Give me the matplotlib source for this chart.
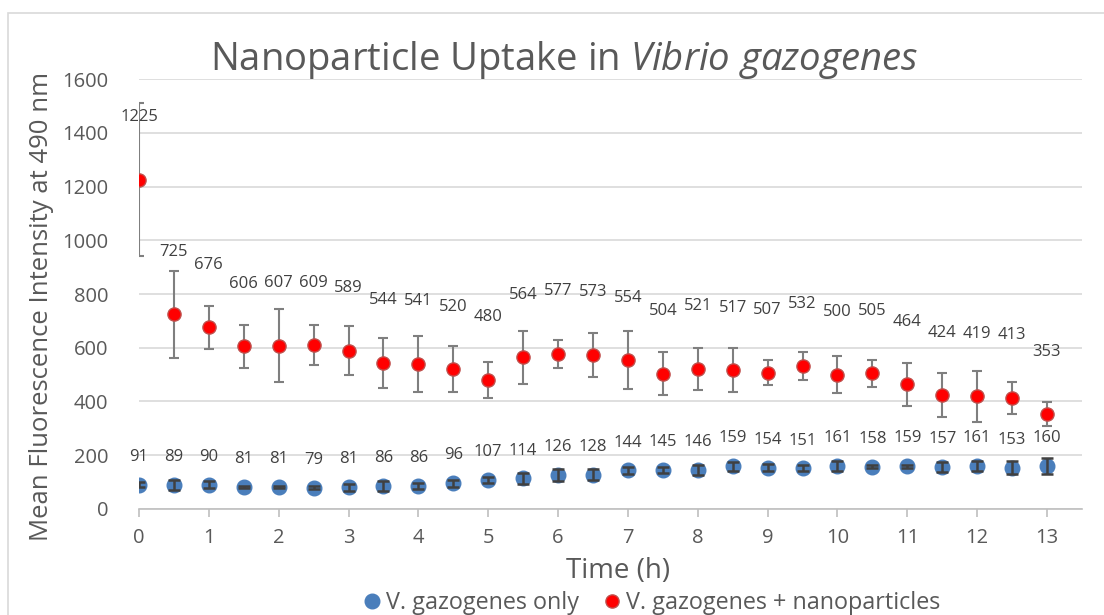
import matplotlib
matplotlib.use("Agg")
import matplotlib.pyplot as plt
from matplotlib.patches import Rectangle

plt.rcParams["font.family"] = "Open Sans"
plt.rcParams["mathtext.fontset"] = "custom"
plt.rcParams["mathtext.rm"] = "Open Sans"
plt.rcParams["mathtext.it"] = "Open Sans:italic"

TEXT = "#595959"

# time points (h)
time_h = [0, 0.5, 1, 1.5, 2, 2.5, 3, 3.5, 4, 4.5, 5, 5.5, 6, 6.5,
          7, 7.5, 8, 8.5, 9, 9.5, 10, 10.5, 11, 11.5, 12, 12.5, 13]

# V. gazogenes only
only_mean = [91, 89, 90, 81, 81, 79, 81, 86, 86, 96, 107, 114, 126, 128,
             144, 145, 146, 159, 154, 151, 161, 158, 159, 157, 161, 153, 160]
only_err = [11, 18, 13, 4, 4, 5, 13, 19, 12, 13, 11, 21, 21, 20,
            12, 12, 18, 17, 14, 11, 19, 5, 5, 19, 19, 24, 28]

# V. gazogenes + nanoparticles
nano_mean = [1225, 725, 676, 606, 607, 609, 589, 544, 541, 520, 480, 564, 577, 573,
             554, 504, 521, 517, 507, 532, 500, 505, 464, 424, 419, 413, 353]
nano_err = [285, 162, 81, 80, 136, 75, 92, 92, 104, 85, 68, 100, 53, 82,
            107, 80, 78, 83, 47, 51, 68, 50, 80, 83, 95, 59, 44]

y_ticks = [0, 200, 400, 600, 800, 1000, 1200, 1400, 1600]
x_ticks = list(range(0, 14))

fig = plt.figure(figsize=(11.04, 6.15), dpi=100)
ax = fig.add_axes([0.1259, 0.1724, 0.8541, 0.6991])

# chart frame (light grey, like the spreadsheet chart border)
fig.patches.append(Rectangle((8 / 1104, -0.1), 1.2, 1 - 13 / 615 + 0.1,
                             transform=fig.transFigure, fill=False,
                             edgecolor="#d9d9d9", linewidth=1.2))

# nanoparticle series: error bars behind markers
ax.errorbar(time_h, nano_mean, yerr=nano_err, fmt="none", ecolor="#7f7f7f",
            elinewidth=1.5, capsize=3.8, capthick=1.5, zorder=3)
ax.plot(time_h, nano_mean, "o", color="#ff0000", markeredgecolor="#c0504d",
        markeredgewidth=1.0, markersize=9.5, zorder=4,
        label="V. gazogenes + nanoparticles")

# cells only: markers with error bars drawn on top
ax.plot(time_h, only_mean, "o", color="#4a7ebb", markeredgecolor="#4a7ebb",
        markersize=10.5, zorder=4, label="V. gazogenes only")
ax.errorbar(time_h, only_mean, yerr=only_err, fmt="none", ecolor="#404040",
            elinewidth=1.8, capsize=4.5, capthick=1.8, zorder=5)

for x, y in zip(time_h, nano_mean):
    ax.annotate(str(y), (x, y), xytext=(0, 45), textcoords="offset points",
                ha="center", va="center", fontsize=12, color="#404040")
for x, y in zip(time_h, only_mean):
    ax.annotate(str(y), (x, y), xytext=(0, 20), textcoords="offset points",
                ha="center", va="center", fontsize=12, color="#404040")

ax.set_xlim(0, 13.5)
ax.set_ylim(0, 1600)
ax.set_yticks(y_ticks)
ax.set_xticks(x_ticks)
ax.grid(axis="y", color="#d9d9d9", linewidth=1.2)
ax.set_axisbelow(True)
for side in ["top", "right", "left"]:
    ax.spines[side].set_visible(False)
ax.spines["bottom"].set_color("#bfbfbf")
ax.spines["bottom"].set_linewidth(1.2)
ax.tick_params(axis="y", length=0, pad=22, labelsize=14.5, labelcolor=TEXT)
ax.tick_params(axis="x", length=6, width=1.2, color="#bfbfbf", pad=8,
               labelsize=14.5, labelcolor=TEXT)

ax.set_xlabel("Time (h)", fontsize=20, color=TEXT)
ax.xaxis.set_label_coords(0.508, -0.112)
ax.set_ylabel("Mean Fluorescence Intensity at 490 nm", fontsize=18.5,
              color=TEXT)
ax.yaxis.set_label_coords(-0.09, 0.47)

fig.text(0.511, 0.902, r"Nanoparticle Uptake in $\mathit{Vibrio\ gazogenes}$",
         ha="center", va="center", fontsize=27.5, color=TEXT)

handles, labels = ax.get_legend_handles_labels()
fig.legend(handles[::-1], labels[::-1], loc="center", bbox_to_anchor=(0.588, 0.0195),
           ncol=2, frameon=False, fontsize=16.8, labelcolor=TEXT,
           handletextpad=0.0, columnspacing=0.8, markerscale=1.0,
           handlelength=1.2, borderpad=0.0)

fig.savefig("out.png", dpi=100)
